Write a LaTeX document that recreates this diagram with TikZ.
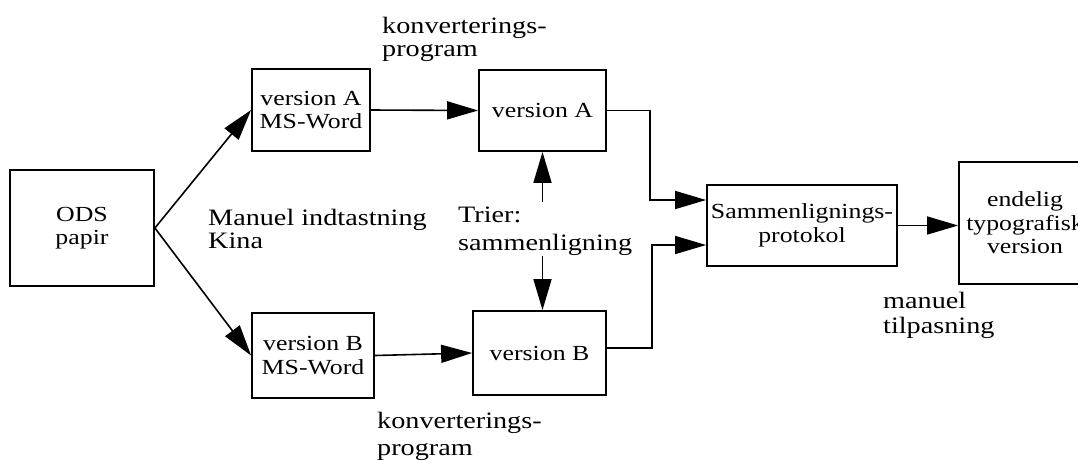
\documentclass[tikz,border=0pt]{standalone}
\usepackage{fontspec}
\setmainfont{Liberation Serif}[FakeStretch=1.2]
\usetikzlibrary{arrows.meta}
\begin{document}
\begin{tikzpicture}[x=1pt,y=-1pt,
  box/.style={draw=black, line width=1.8pt, align=center, inner sep=0pt, font=\fontsize{21.5}{23.5}\selectfont},
  lbl/.style={align=left, inner sep=0pt, anchor=base west, font=\fontsize{23.5}{25}\selectfont},
  arr/.style={draw=black, line width=1.6pt, -{Triangle[length=31pt,width=18pt]}}]
\useasboundingbox (0,0) rectangle (1078,459);
\clip (0,0) rectangle (1078,459);
\node[box, minimum width=144pt, minimum height=116pt] (ods) at (82,228) {ODS\\papir};
\node[box, minimum width=118pt, minimum height=82pt] (wa) at (311,110) {version A\\MS-Word};
\node[box, minimum width=127pt, minimum height=81pt] (va) at (542.5,110.5) {version A};
\node[box, minimum width=122pt, minimum height=85pt] (wb) at (313,355.5) {version B\\MS-Word};
\node[box, minimum width=133pt, minimum height=84pt] (vb) at (539.5,353) {version B};
\node[box, minimum width=190pt, minimum height=81pt] (sam) at (802,225.5) {Sammenlignings-\\protokol};
\node[box, minimum width=132pt, minimum height=122pt] (end) at (1025,223) {endelig\\typografisk\\version};

\node[lbl, font=\fontsize{23.5}{23}\selectfont] (k1) at (382,56) {konverterings-\\program};
\node[lbl, font=\fontsize{23.5}{27}\selectfont] (k2) at (377,455) {konverterings-\\program};
\node[lbl, font=\fontsize{23.5}{23}\selectfont] (man) at (208,248) {Manuel indtastning\\Kina};
\node[lbl, font=\fontsize{23.5}{28}\selectfont] (trier) at (458,250) {Trier:\\sammenligning};
\node[lbl] (mt) at (883,333) {manuel\\tilpasning};

\draw[arr] (ods.east) -- (wa.west);
\draw[arr] (ods.east) -- (wb.west);
\draw[arr] (wa.east) -- (va.west);
\draw[arr] (wb.east) -- (vb.west);
\draw[arr] (va.east) -- ++(43,0) |- ([yshift=25.5pt]sam.west);
\draw[arr] ([yshift=5pt]vb.east) -- ++(45,0) |- ([yshift=-19.5pt]sam.west);
\draw[arr] (sam.east) -- (sam.east -| end.west);
\draw[arr] (trier.north -| va.south) ++(0,-4) -- (va.south);
\draw[arr] (trier.south -| va.south) ++(0,1) -- (va.south |- vb.north);
\end{tikzpicture}
\end{document}
